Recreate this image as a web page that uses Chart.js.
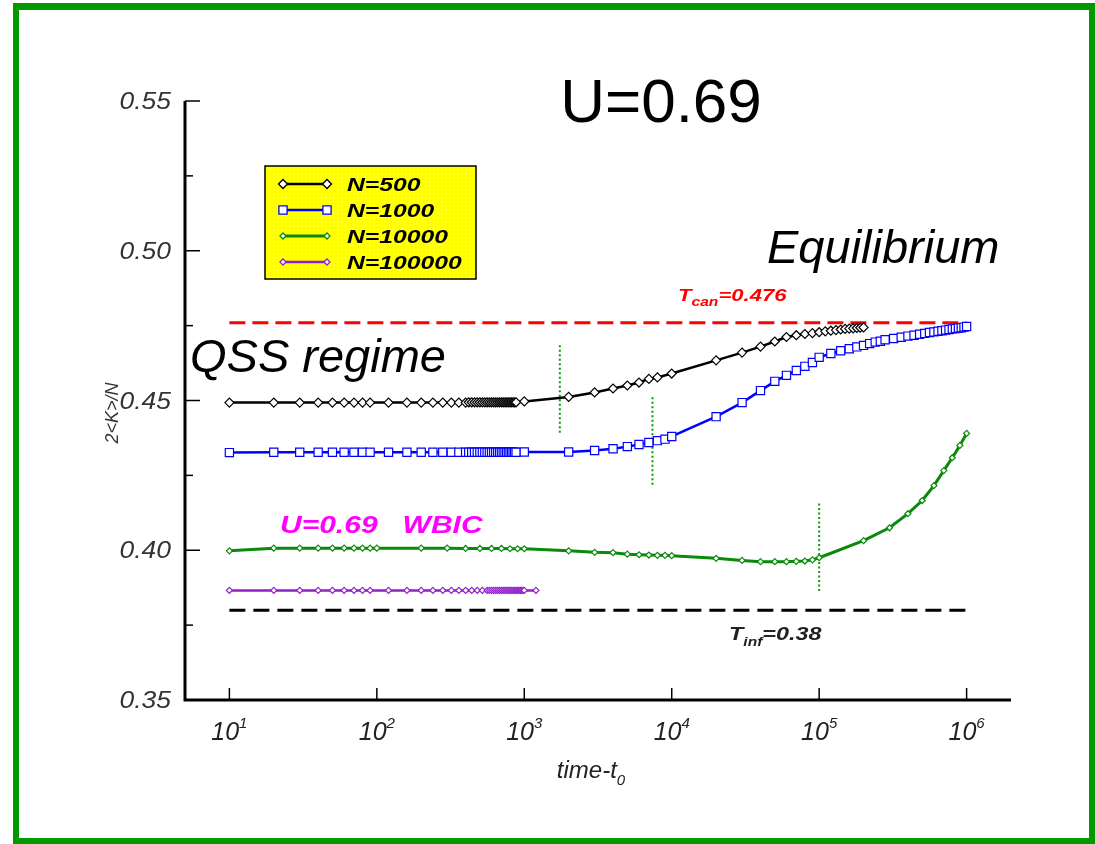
<!DOCTYPE html>
<html lang="en">
<head>
  <meta charset="UTF-8">
  <title>U=0.69</title>
  <script src="https://cdn.jsdelivr.net/npm/chart.js"></script>
  <style>
    body { margin: 0; background: #fff; }
  </style>
</head>
<body>

  <canvas id="myChart" width="1095" height="844"></canvas>

  <script>
    // time - t0 and 2<K>/N, one pair of arrays per N
    const n500Time = [10, 20, 30, 40, 50, 60, 70, 80, 90, 120, 160, 200, 240, 280, 320, 360, 400,
      420, 440, 460, 480, 500, 520, 540, 560, 580, 600, 620, 640, 660, 680, 700, 720, 740, 760, 780, 800, 820, 840, 860, 880,
      1000, 2000, 3000, 4000, 5000, 6000, 7000, 8000, 10000, 20000, 30000, 40000, 50000, 60000,
      70000, 80000, 90000, 100000, 110000, 120000, 130000, 140000, 150000, 160000, 170000, 180000, 190000, 200000];
    const n500Val = [0.4493, 0.4493, 0.4493, 0.4493, 0.4493, 0.4493, 0.4493, 0.4493, 0.4493, 0.4493, 0.4493, 0.4493, 0.4493, 0.4493, 0.4493, 0.4493, 0.4493,
      0.4494, 0.4494, 0.4494, 0.4494, 0.4494, 0.4494, 0.4494, 0.4494, 0.4494, 0.4494, 0.4494, 0.4494, 0.4494, 0.4494, 0.4494, 0.4494, 0.4494, 0.4494, 0.4494, 0.4494, 0.4494, 0.4494, 0.4494, 0.4494,
      0.4497, 0.4512, 0.4527, 0.4540, 0.4550, 0.4560, 0.4572, 0.4577, 0.4590, 0.4634, 0.4660, 0.4680, 0.4697, 0.4712,
      0.4718, 0.4722, 0.4725, 0.4728, 0.4731, 0.4733, 0.4735, 0.4737, 0.4739, 0.4740, 0.4741, 0.4742, 0.4743, 0.4744];

    const n1000Time = [10, 20, 30, 40, 50, 60, 70, 80, 90, 120, 160, 200, 240, 280, 320, 360, 400,
      420, 440, 460, 480, 500, 520, 540, 560, 580, 600, 620, 640, 660, 680, 700, 720, 740, 760, 780, 800, 820, 840, 860, 880,
      1000, 2000, 3000, 4000, 5000, 6000, 7000, 8000, 9000, 10000,
      20000, 30000, 40000, 50000, 60000, 70000, 80000, 90000, 100000,
      120000, 140000, 160000, 180000, 200000, 220000, 240000, 260000,
      280000, 320000, 360000, 400000, 440000, 480000, 520000, 560000, 600000, 640000, 680000, 720000, 760000, 800000, 840000, 880000, 920000, 960000, 1000000];
    const n1000Val = [0.4326, 0.4327, 0.4327, 0.4327, 0.4327, 0.4327, 0.4327, 0.4327, 0.4327, 0.4327, 0.4327, 0.4327, 0.4327, 0.4327, 0.4327, 0.4327, 0.4327,
      0.4327, 0.4327, 0.4327, 0.4327, 0.4327, 0.4327, 0.4327, 0.4327, 0.4327, 0.4327, 0.4327, 0.4327, 0.4327, 0.4327, 0.4327, 0.4327, 0.4327, 0.4327, 0.4327, 0.4327, 0.4327, 0.4327, 0.4327, 0.4327,
      0.4328, 0.4328, 0.4333, 0.4339, 0.4346, 0.4353, 0.4360, 0.4366, 0.4371, 0.4380,
      0.4446, 0.4493, 0.4533, 0.4564, 0.4584, 0.4600, 0.4614, 0.4627, 0.4644,
      0.4657, 0.4666, 0.4673, 0.4679, 0.4684, 0.4690, 0.4695, 0.4698,
      0.4703, 0.4707, 0.4711, 0.4715, 0.4718, 0.4721, 0.4724, 0.4727, 0.4729, 0.4731, 0.4733, 0.4735, 0.4737, 0.4739, 0.4740, 0.4742, 0.4743, 0.4745, 0.4747];

    const n10000Time = [10, 20, 30, 40, 50, 60, 70, 80, 90, 100, 200, 300, 400, 500, 600, 700, 800, 900, 1000,
      2000, 3000, 4000, 5000, 6000, 7000, 8000, 9000, 10000,
      20000, 30000, 40000, 50000, 60000, 70000, 80000, 90000, 100000,
      200000, 300000, 400000, 500000, 600000, 700000, 800000, 900000, 1000000];
    const n10000Val = [0.3998, 0.4007, 0.4007, 0.4007, 0.4007, 0.4007, 0.4007, 0.4007, 0.4007, 0.4007, 0.4007, 0.4007, 0.4006, 0.4006, 0.4006, 0.4006, 0.4005, 0.4005, 0.4005,
      0.3998, 0.3993, 0.3992, 0.3987, 0.3985, 0.3984, 0.3983, 0.3983, 0.3982,
      0.3973, 0.3966, 0.3962, 0.3962, 0.3962, 0.3963, 0.3964, 0.3968, 0.3975,
      0.4032, 0.4075, 0.4122, 0.4166, 0.4216, 0.4266, 0.4309, 0.4350, 0.4390];

    const n100000Time = [10, 20, 30, 40, 50, 60, 70, 80, 90, 120, 160, 200, 240, 280, 320, 360, 400, 440, 480, 520, 560,
      580, 600, 620, 640, 660, 680, 700, 720, 740, 760, 780, 800, 820, 840, 860, 880, 900, 920, 940, 960, 980, 1000, 1200];
    const n100000Val = [0.3866, 0.3866, 0.3866, 0.3866, 0.3866, 0.3866, 0.3866, 0.3866, 0.3866, 0.3866, 0.3866, 0.3866, 0.3866, 0.3866, 0.3866, 0.3866, 0.3866, 0.3866, 0.3866, 0.3866, 0.3866,
      0.3866, 0.3866, 0.3866, 0.3866, 0.3866, 0.3866, 0.3866, 0.3866, 0.3866, 0.3866, 0.3866, 0.3866, 0.3866, 0.3866, 0.3866, 0.3866, 0.3866, 0.3866, 0.3866, 0.3866, 0.3866, 0.3866, 0.3866];

    // reference temperatures
    const refTime = [10, 1000000];
    const tcanVal = [0.476, 0.476];
    const tinfVal = [0.38, 0.38];

    // green dotted markers (time, low end, high end)
    const markTime = [1742, 7400, 100000];
    const markLow = [0.4392, 0.4219, 0.3864];
    const markHigh = [0.4690, 0.4511, 0.4158];

    const xTicks = [10, 100, 1000, 10000, 100000, 1000000];
    const xExp = ['1', '2', '3', '4', '5', '6'];
    const yTicks = [0.35, 0.40, 0.45, 0.50, 0.55];
    const yTickLabels = ['0.35', '0.40', '0.45', '0.50', '0.55'];
    const yMinor = [0.375, 0.425, 0.475, 0.525];

    const legendLabels = ['N=500', 'N=1000', 'N=10000', 'N=100000'];

    const pts = (xs, ys) => xs.map((x, i) => ({ x: x, y: ys[i] }));

    const FONT = '"Liberation Sans", Arial, sans-serif';

    // draw text squeezed/stretched horizontally; parts = [{text, font, dy}]
    function stretchText(ctx, parts, x, y, sx, color, align) {
      ctx.save();
      ctx.fillStyle = color;
      ctx.textBaseline = 'alphabetic';
      ctx.textAlign = 'left';
      let w = 0;
      parts.forEach(p => { ctx.font = p.font; w += ctx.measureText(p.text).width; });
      let start = x;
      if (align === 'center') start = x - w * sx / 2;
      if (align === 'right') start = x - w * sx;
      ctx.translate(start, y);
      ctx.scale(sx, 1);
      let cx = 0;
      parts.forEach(p => {
        ctx.font = p.font;
        ctx.fillText(p.text, cx, p.dy || 0);
        cx += ctx.measureText(p.text).width;
      });
      ctx.restore();
    }

    function marker(ctx, style, x, y, r, color) {
      ctx.beginPath();
      if (style === 'rect') {
        const s = r * Math.SQRT1_2;
        ctx.rect(x - s, y - s, 2 * s, 2 * s);
      } else {
        ctx.moveTo(x - r, y);
        ctx.lineTo(x, y - r);
        ctx.lineTo(x + r, y);
        ctx.lineTo(x, y + r);
        ctx.closePath();
      }
      ctx.fillStyle = '#fff';
      ctx.fill();
      ctx.lineWidth = 1.3;
      ctx.strokeStyle = color;
      ctx.stroke();
    }

    const seriesStyle = [
      { color: '#000000', shape: 'rectRot', r: 4.5, width: 2.5 },
      { color: '#0000ff', shape: 'rect', r: 5.8, width: 2.5 },
      { color: '#0a8a0a', shape: 'rectRot', r: 3, width: 3 },
      { color: '#9020c8', shape: 'rectRot', r: 3, width: 2.5 }
    ];

    function lineSet(label, data, st) {
      return {
        label: label,
        data: data,
        borderColor: st.color,
        borderWidth: st.width,
        pointStyle: st.shape,
        pointRadius: st.r,
        pointBackgroundColor: '#fff',
        pointBorderColor: st.color,
        pointBorderWidth: 1.2,
        tension: 0,
        fill: false
      };
    }

    function dashSet(data, color, dash, width) {
      return {
        label: '',
        data: data,
        borderColor: color,
        borderWidth: width,
        borderDash: dash,
        pointRadius: 0,
        fill: false
      };
    }

    const datasets = [
      lineSet(legendLabels[0], pts(n500Time, n500Val), seriesStyle[0]),
      lineSet(legendLabels[1], pts(n1000Time, n1000Val), seriesStyle[1]),
      lineSet(legendLabels[2], pts(n10000Time, n10000Val), seriesStyle[2]),
      lineSet(legendLabels[3], pts(n100000Time, n100000Val), seriesStyle[3]),
      dashSet(pts(refTime, tcanVal), '#ff0000', [16, 7], 3),
      dashSet(pts(refTime, tinfVal), '#000000', [16, 8], 3)
    ];
    markTime.forEach((t, i) => {
      datasets.push(dashSet([{ x: t, y: markLow[i] }, { x: t, y: markHigh[i] }], '#00a000', [2, 2.5], 2));
    });

    // yellow dotted texture for the legend box
    const pat = document.createElement('canvas');
    pat.width = 4; pat.height = 4;
    const pctx = pat.getContext('2d');
    pctx.fillStyle = '#ffff00';
    pctx.fillRect(0, 0, 4, 4);
    pctx.fillStyle = '#ffffb0';
    pctx.fillRect(1, 1, 1, 1);

    const decorations = {
      id: 'decorations',
      beforeDraw(chart) {
        const ctx = chart.ctx;
        ctx.save();
        ctx.fillStyle = '#fff';
        ctx.fillRect(0, 0, chart.width, chart.height);
        // green frame
        ctx.fillStyle = '#009900';
        ctx.fillRect(13, 3, 6, 841);
        ctx.fillRect(13, 3, 1082, 7);
        ctx.fillRect(1089, 3, 6, 841);
        ctx.fillRect(13, 838, 1082, 6);
        ctx.restore();
      },
      afterDraw(chart) {
        const ctx = chart.ctx;
        const xs = chart.scales.x, ys = chart.scales.y;
        const a = chart.chartArea;
        ctx.save();

        // axes
        ctx.strokeStyle = '#000';
        ctx.lineWidth = 3;
        ctx.beginPath();
        ctx.moveTo(a.left, a.top);
        ctx.lineTo(a.left, a.bottom);
        ctx.lineTo(a.right, a.bottom);
        ctx.stroke();

        ctx.lineWidth = 1.5;
        yTicks.forEach((v, i) => {
          const py = ys.getPixelForValue(v);
          ctx.beginPath();
          ctx.moveTo(a.left, py);
          ctx.lineTo(a.left + 15, py);
          ctx.stroke();
          stretchText(ctx, [{ text: yTickLabels[i], font: 'italic 23px ' + FONT }], 171, py + 8, 1.15, '#333', 'right');
        });
        yMinor.forEach(v => {
          const py = ys.getPixelForValue(v);
          ctx.beginPath();
          ctx.moveTo(a.left, py);
          ctx.lineTo(a.left + 8, py);
          ctx.stroke();
        });
        xTicks.forEach((v, i) => {
          const px = xs.getPixelForValue(v);
          ctx.beginPath();
          ctx.moveTo(px, a.bottom);
          ctx.lineTo(px, a.bottom - 12);
          ctx.stroke();
          stretchText(ctx, [
            { text: '10', font: 'italic 25px ' + FONT },
            { text: xExp[i], font: 'italic 15px ' + FONT, dy: -12 }
          ], px, 740, 1, '#222', 'center');
        });

        // axis titles
        stretchText(ctx, [
          { text: 'time-t', font: 'italic 24px ' + FONT },
          { text: '0', font: 'italic 15px ' + FONT, dy: 7 }
        ], 591, 778, 1, '#222', 'center');
        ctx.save();
        ctx.translate(118, 413);
        ctx.rotate(-Math.PI / 2);
        stretchText(ctx, [{ text: '2<K>/N', font: 'italic 18px ' + FONT }], 0, 0, 1, '#333', 'center');
        ctx.restore();

        // annotations
        stretchText(ctx, [{ text: 'U=0.69', font: '62px ' + FONT }], 661, 122, 1, '#000', 'center');
        stretchText(ctx, [{ text: 'Equilibrium', font: 'italic 47px ' + FONT }], 767, 263, 1, '#000', 'left');
        stretchText(ctx, [{ text: 'QSS regime', font: 'italic 47px ' + FONT }], 190, 372, 1, '#000', 'left');
        stretchText(ctx, [{ text: 'U=0.69   WBIC', font: 'bold italic 24px ' + FONT }], 280, 533, 1.25, '#ff00ff', 'left');
        stretchText(ctx, [
          { text: 'T', font: 'bold italic 17px ' + FONT },
          { text: 'can', font: 'bold italic 12px ' + FONT, dy: 5 },
          { text: '=0.476', font: 'bold italic 17px ' + FONT }
        ], 678, 301, 1.3, '#ff0000', 'left');
        stretchText(ctx, [
          { text: 'T', font: 'bold italic 18px ' + FONT },
          { text: 'inf', font: 'bold italic 12px ' + FONT, dy: 6 },
          { text: '=0.38', font: 'bold italic 18px ' + FONT }
        ], 729, 640, 1.3, '#222', 'left');

        // legend
        ctx.fillStyle = ctx.createPattern(pat, 'repeat');
        ctx.fillRect(265, 166, 211, 113);
        ctx.lineWidth = 1.5;
        ctx.strokeStyle = '#000';
        ctx.strokeRect(265, 166, 211, 113);
        const rows = [184, 210, 236, 262];
        legendLabels.forEach((lab, i) => {
          const st = seriesStyle[i];
          const ry = rows[i];
          ctx.strokeStyle = st.color;
          ctx.lineWidth = st.width;
          ctx.beginPath();
          ctx.moveTo(283, ry);
          ctx.lineTo(327, ry);
          ctx.stroke();
          marker(ctx, st.shape, 283, ry, st.r, st.color);
          marker(ctx, st.shape, 327, ry, st.r, st.color);
          stretchText(ctx, [{ text: lab, font: 'bold italic 19px ' + FONT }], 347, ry + 7, 1.3, '#000', 'left');
        });

        ctx.restore();
      }
    };

    const config = {
      type: 'line',
      data: { datasets: datasets },
      options: {
        responsive: false,
        animation: false,
        layout: { padding: { left: 185, right: 84, top: 101, bottom: 144 } },
        plugins: { legend: { display: false }, tooltip: { enabled: false } },
        scales: {
          x: { type: 'logarithmic', min: 5, max: 2000000, display: false },
          y: { type: 'linear', min: 0.35, max: 0.55, display: false }
        }
      },
      plugins: [decorations]
    };

    const ctx = document.getElementById('myChart').getContext('2d');
    const myChart = new Chart(ctx, config);
  </script>

</body>
</html>
